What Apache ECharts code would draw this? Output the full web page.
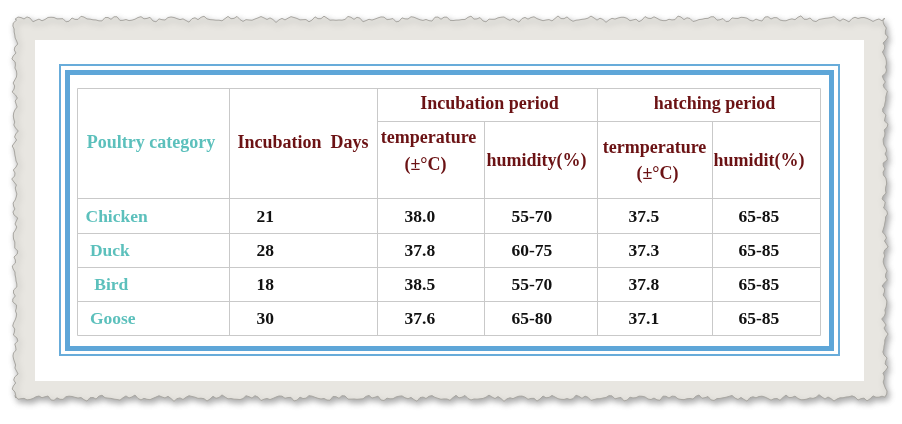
<!DOCTYPE html>
<html>
<head>
<meta charset="utf-8">
<title>Poultry incubation table</title>
<script src="https://cdn.jsdelivr.net/npm/echarts@6.0.0/dist/echarts.min.js"></script>
<style>
  html, body { margin: 0; padding: 0; background: #fff; }
  #chart { width: 902px; height: 424px; }
</style>
</head>
<body>
<div id="chart"></div>
<script>
// table content
const categories = ['Chicken', ' Duck', '  Bird', ' Goose'];
const incubationDays = ['21', '28', '18', '30'];
const incubationTemp = ['38.0', '37.8', '38.5', '37.6'];
const incubationHumidity = ['55-70', '60-75', '55-70', '65-80'];
const hatchingTemp = ['37.5', '37.3', '37.8', '37.1'];
const hatchingHumidity = ['65-85', '65-85', '65-85', '65-85'];

const groupHeaders = ['Incubation period', 'hatching period'];
const subHeaders = ['temperature', '(±°C)', 'humidity(%)', 'termperature', '(±°C)', 'humidit(%)'];
const rowHeaders = ['Poultry category', 'Incubation  Days'];

// layout of the table, in px from its top-left corner
const tableW = 743, tableH = 247;
const colEdges = [0, 152, 300, 407, 520, 635, 743];
const rowEdges = [0, 33, 110, 145, 179, 213, 247];
const colTextX = [8, 179, 327, 434, 551, 661];

const teal = '#5cc0bc';
const darkRed = '#6b1214';
const ink = '#111';
const font = 'bold 17.5px "Liberation Serif", "DejaVu Serif", serif';
const headFont = 'bold 18px "Liberation Serif", "DejaVu Serif", serif';

// grid lines
const segments = [];
[0, 110, 145, 179, 213, 247].forEach(y => segments.push([0, y, tableW, y]));
segments.push([colEdges[2], rowEdges[1], tableW, rowEdges[1]]);
[0, 1, 2, 4, 6].forEach(i => segments.push([colEdges[i], 0, colEdges[i], tableH]));
[3, 5].forEach(i => segments.push([colEdges[i], rowEdges[1], colEdges[i], tableH]));

// text cells: [x, y, text, colour, align, font]
const cells = [];
cells.push([73.5, 55, rowHeaders[0], teal, 'center', headFont]);
cells.push([160, 55, rowHeaders[1], darkRed, 'left', headFont]);
cells.push([412, 16, groupHeaders[0], darkRed, 'center', headFont]);
cells.push([637, 16, groupHeaders[1], darkRed, 'center', headFont]);
cells.push([351, 50, subHeaders[0], darkRed, 'center', headFont]);
cells.push([348, 77, subHeaders[1], darkRed, 'center', headFont]);
cells.push([409, 73, subHeaders[2], darkRed, 'left', headFont]);
cells.push([577, 60, subHeaders[3], darkRed, 'center', headFont]);
cells.push([580, 86, subHeaders[4], darkRed, 'center', headFont]);
cells.push([636, 73, subHeaders[5], darkRed, 'left', headFont]);

const columns = [categories, incubationDays, incubationTemp, incubationHumidity, hatchingTemp, hatchingHumidity];
categories.forEach((c, r) => {
  const y = (rowEdges[r + 2] + rowEdges[r + 3]) / 2 + 1;
  columns.forEach((col, j) => {
    cells.push([colTextX[j], y, col[r], j === 0 ? teal : ink, 'left', font]);
  });
});

// deckle edged paper outline
function paperEdge(x0, y0, x1, y1) {
  const pts = [];
  const jag = t => 1.6 * Math.sin(t * 0.21) + 1.1 * Math.sin(t * 0.57 + 1.3) + 0.8 * Math.sin(t * 1.37 + 0.4);
  for (let x = x0; x <= x1; x += 3) pts.push([x, y0 + jag(x)]);
  for (let y = y0; y <= y1; y += 3) pts.push([x1 + jag(y + 900), y]);
  for (let x = x1; x >= x0; x -= 3) pts.push([x, y1 + jag(x + 400)]);
  for (let y = y1; y >= y0; y -= 3) pts.push([x0 + jag(y + 1700), y]);
  return pts;
}

const chart = echarts.init(document.getElementById('chart'));

const option = {
  backgroundColor: '#fff',
  animation: false,
  graphic: [
    {
      type: 'polygon',
      shape: { points: paperEdge(15, 19, 885, 398) },
      style: {
        fill: '#e8e6e1', stroke: '#a9a7a2', lineWidth: 1,
        shadowBlur: 6, shadowColor: 'rgba(0,0,0,0.35)', shadowOffsetX: 2, shadowOffsetY: 3
      }
    },
    { type: 'rect', shape: { x: 35, y: 40, width: 829, height: 341 }, style: { fill: '#fff' } },
    { type: 'rect', shape: { x: 60, y: 65, width: 779, height: 290 }, style: { fill: 'none', stroke: '#68acda', lineWidth: 2 } },
    { type: 'rect', shape: { x: 67.5, y: 72.5, width: 764, height: 276 }, style: { fill: 'none', stroke: '#5ea6d8', lineWidth: 5 } }
  ],
  grid: { left: 77.5, top: 88.5, width: tableW, height: tableH },
  xAxis: { type: 'value', min: 0, max: tableW, show: false },
  yAxis: { type: 'value', min: 0, max: tableH, inverse: true, show: false },
  series: [
    {
      type: 'custom',
      name: 'lines',
      data: segments,
      renderItem: (params, api) => {
        const p1 = api.coord([api.value(0), api.value(1)]);
        const p2 = api.coord([api.value(2), api.value(3)]);
        return {
          type: 'line',
          shape: { x1: p1[0], y1: p1[1], x2: p2[0], y2: p2[1] },
          style: { stroke: '#c9c9c9', lineWidth: 1 }
        };
      }
    },
    {
      type: 'custom',
      name: 'cells',
      data: cells.map(c => [c[0], c[1]]),
      renderItem: (params, api) => {
        const c = cells[params.dataIndex];
        const p = api.coord([api.value(0), api.value(1)]);
        return {
          type: 'text',
          x: p[0], y: p[1],
          style: { text: c[2], fill: c[3], align: c[4], verticalAlign: 'middle', font: c[5] }
        };
      }
    }
  ]
};

chart.setOption(option);
</script>
</body>
</html>
